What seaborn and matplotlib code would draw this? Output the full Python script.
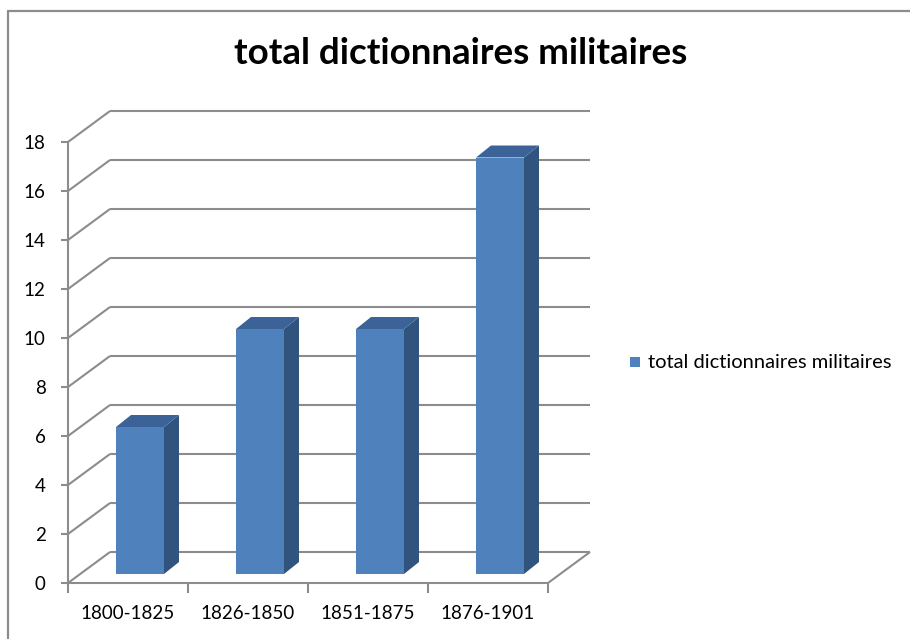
import matplotlib
matplotlib.use("Agg")
import matplotlib.pyplot as plt
from matplotlib.lines import Line2D
from matplotlib.patches import Polygon, Rectangle
from matplotlib.transforms import Affine2D
import seaborn as sns

# Data
periods = ["1800-1825", "1826-1850", "1851-1875", "1876-1901"]
counts = [6, 10, 10, 17]
series_name = "total dictionnaires militaires"
y_ticks = [0, 2, 4, 6, 8, 10, 12, 14, 16, 18]

sns.set_theme(style="white")
plt.rcParams["font.family"] = ["Lato", "DejaVu Sans"]

W, H = 910, 639
fig = plt.figure(figsize=(W / 100, H / 100), dpi=100)
fig.patch.set_facecolor("white")

# Outer chart frame (left and top edges)
frame_kw = dict(transform=fig.transFigure, color="#8c8c8c", linewidth=1.6)
fig.add_artist(Line2D([7.5 / W, 7.5 / W], [0, 1 - 10.5 / H], **frame_kw))
fig.add_artist(Line2D([7.5 / W, 1], [1 - 10.5 / H, 1 - 10.5 / H], **frame_kw))

ax = fig.add_axes([68 / W, 56 / H, 480 / W, 441 / H])

front = "#4f81bd"
side = "#31547f"
top = "#3b6398"
grid_c = "#8c8c8c"

sns.barplot(x=periods, y=counts, ax=ax, width=0.4, color=front,
            saturation=1, edgecolor="none", linewidth=0, zorder=5)

ax.set_xlim(-0.5, 3.5)
ax.set_ylim(0, 18)
for s in ax.spines.values():
    s.set_visible(False)
ax.set_facecolor("none")

# pixels per data unit
kx = ax.bbox.width / 4.0
ky = ax.bbox.height / 18.0

# depth of the chart walls, position and depth of the columns (in pixels)
WX, WY = 42 / kx, 31 / ky
BX, BY = 12 / kx, 9 / ky
DX, DY = 15 / kx, 12 / ky

line_kw = dict(color=grid_c, linewidth=1.5, clip_on=False, zorder=1,
               solid_capstyle="butt")

# back wall gridlines and side wall diagonals
for v in y_ticks:
    ax.plot([-0.5 + WX, 3.5 + WX], [v + WY, v + WY], **line_kw)
    ax.plot([-0.5, -0.5 + WX], [v, v + WY], **line_kw)
# floor front and right edges
ax.plot([-0.5, 3.5], [0, 0], **line_kw)
ax.plot([3.5, 3.5 + WX], [0, WY], **line_kw)
# value axis line
ax.plot([-0.5, -0.5], [0, 18], **line_kw)

# columns: shift front faces into the floor, add side and top faces
shift = Affine2D().translate(BX, BY)
for p in ax.patches:
    x0 = p.get_x() + BX
    w = p.get_width()
    h = p.get_height() + BY
    y0 = BY
    p.set_transform(shift + ax.transData)
    p.set_clip_on(False)
    side_poly = [(x0 + w, y0), (x0 + w + DX, y0 + DY),
                 (x0 + w + DX, h + DY), (x0 + w, h)]
    top_poly = [(x0, h), (x0 + DX, h + DY), (x0 + w + DX, h + DY), (x0 + w, h)]
    ax.add_patch(Polygon(side_poly, closed=True, facecolor=side,
                         edgecolor="none", zorder=5, clip_on=False))
    ax.add_patch(Polygon(top_poly, closed=True, facecolor=top,
                         edgecolor="none", zorder=5, clip_on=False))

# ticks
ax.set_yticks(y_ticks)
ax.set_yticklabels([str(v) for v in y_ticks])
ax.set_xticks([-0.5, 0.5, 1.5, 2.5, 3.5], minor=False)
ax.set_xticklabels([])
ax.set_xticks([0, 1, 2, 3], minor=True)
ax.set_xticklabels(periods, minor=True)
ax.tick_params(axis="y", which="major", left=True, length=5, width=1.5,
               color=grid_c, pad=11, labelsize=13.5, labelcolor="black")
ax.tick_params(axis="x", which="major", bottom=True, length=7, width=1.5,
               color=grid_c)
ax.tick_params(axis="x", which="minor", bottom=False, length=0, pad=16,
               labelsize=13.5, labelcolor="black")
ax.set_xlabel("")
ax.set_ylabel("")

# title
fig.text(461 / W, 1 - 53 / H, series_name, ha="center", va="center",
         fontsize=26.5, fontweight="bold", color="black")

# legend
fig.add_artist(Rectangle((630 / W, 1 - 367 / H), 10 / W, 10 / H,
                         transform=fig.transFigure, facecolor=front,
                         edgecolor="none"))
fig.text(648 / W, 1 - 362 / H, series_name, ha="left", va="center",
         fontsize=14.5, color="black")

fig.savefig("out.png", dpi=100, facecolor="white")
